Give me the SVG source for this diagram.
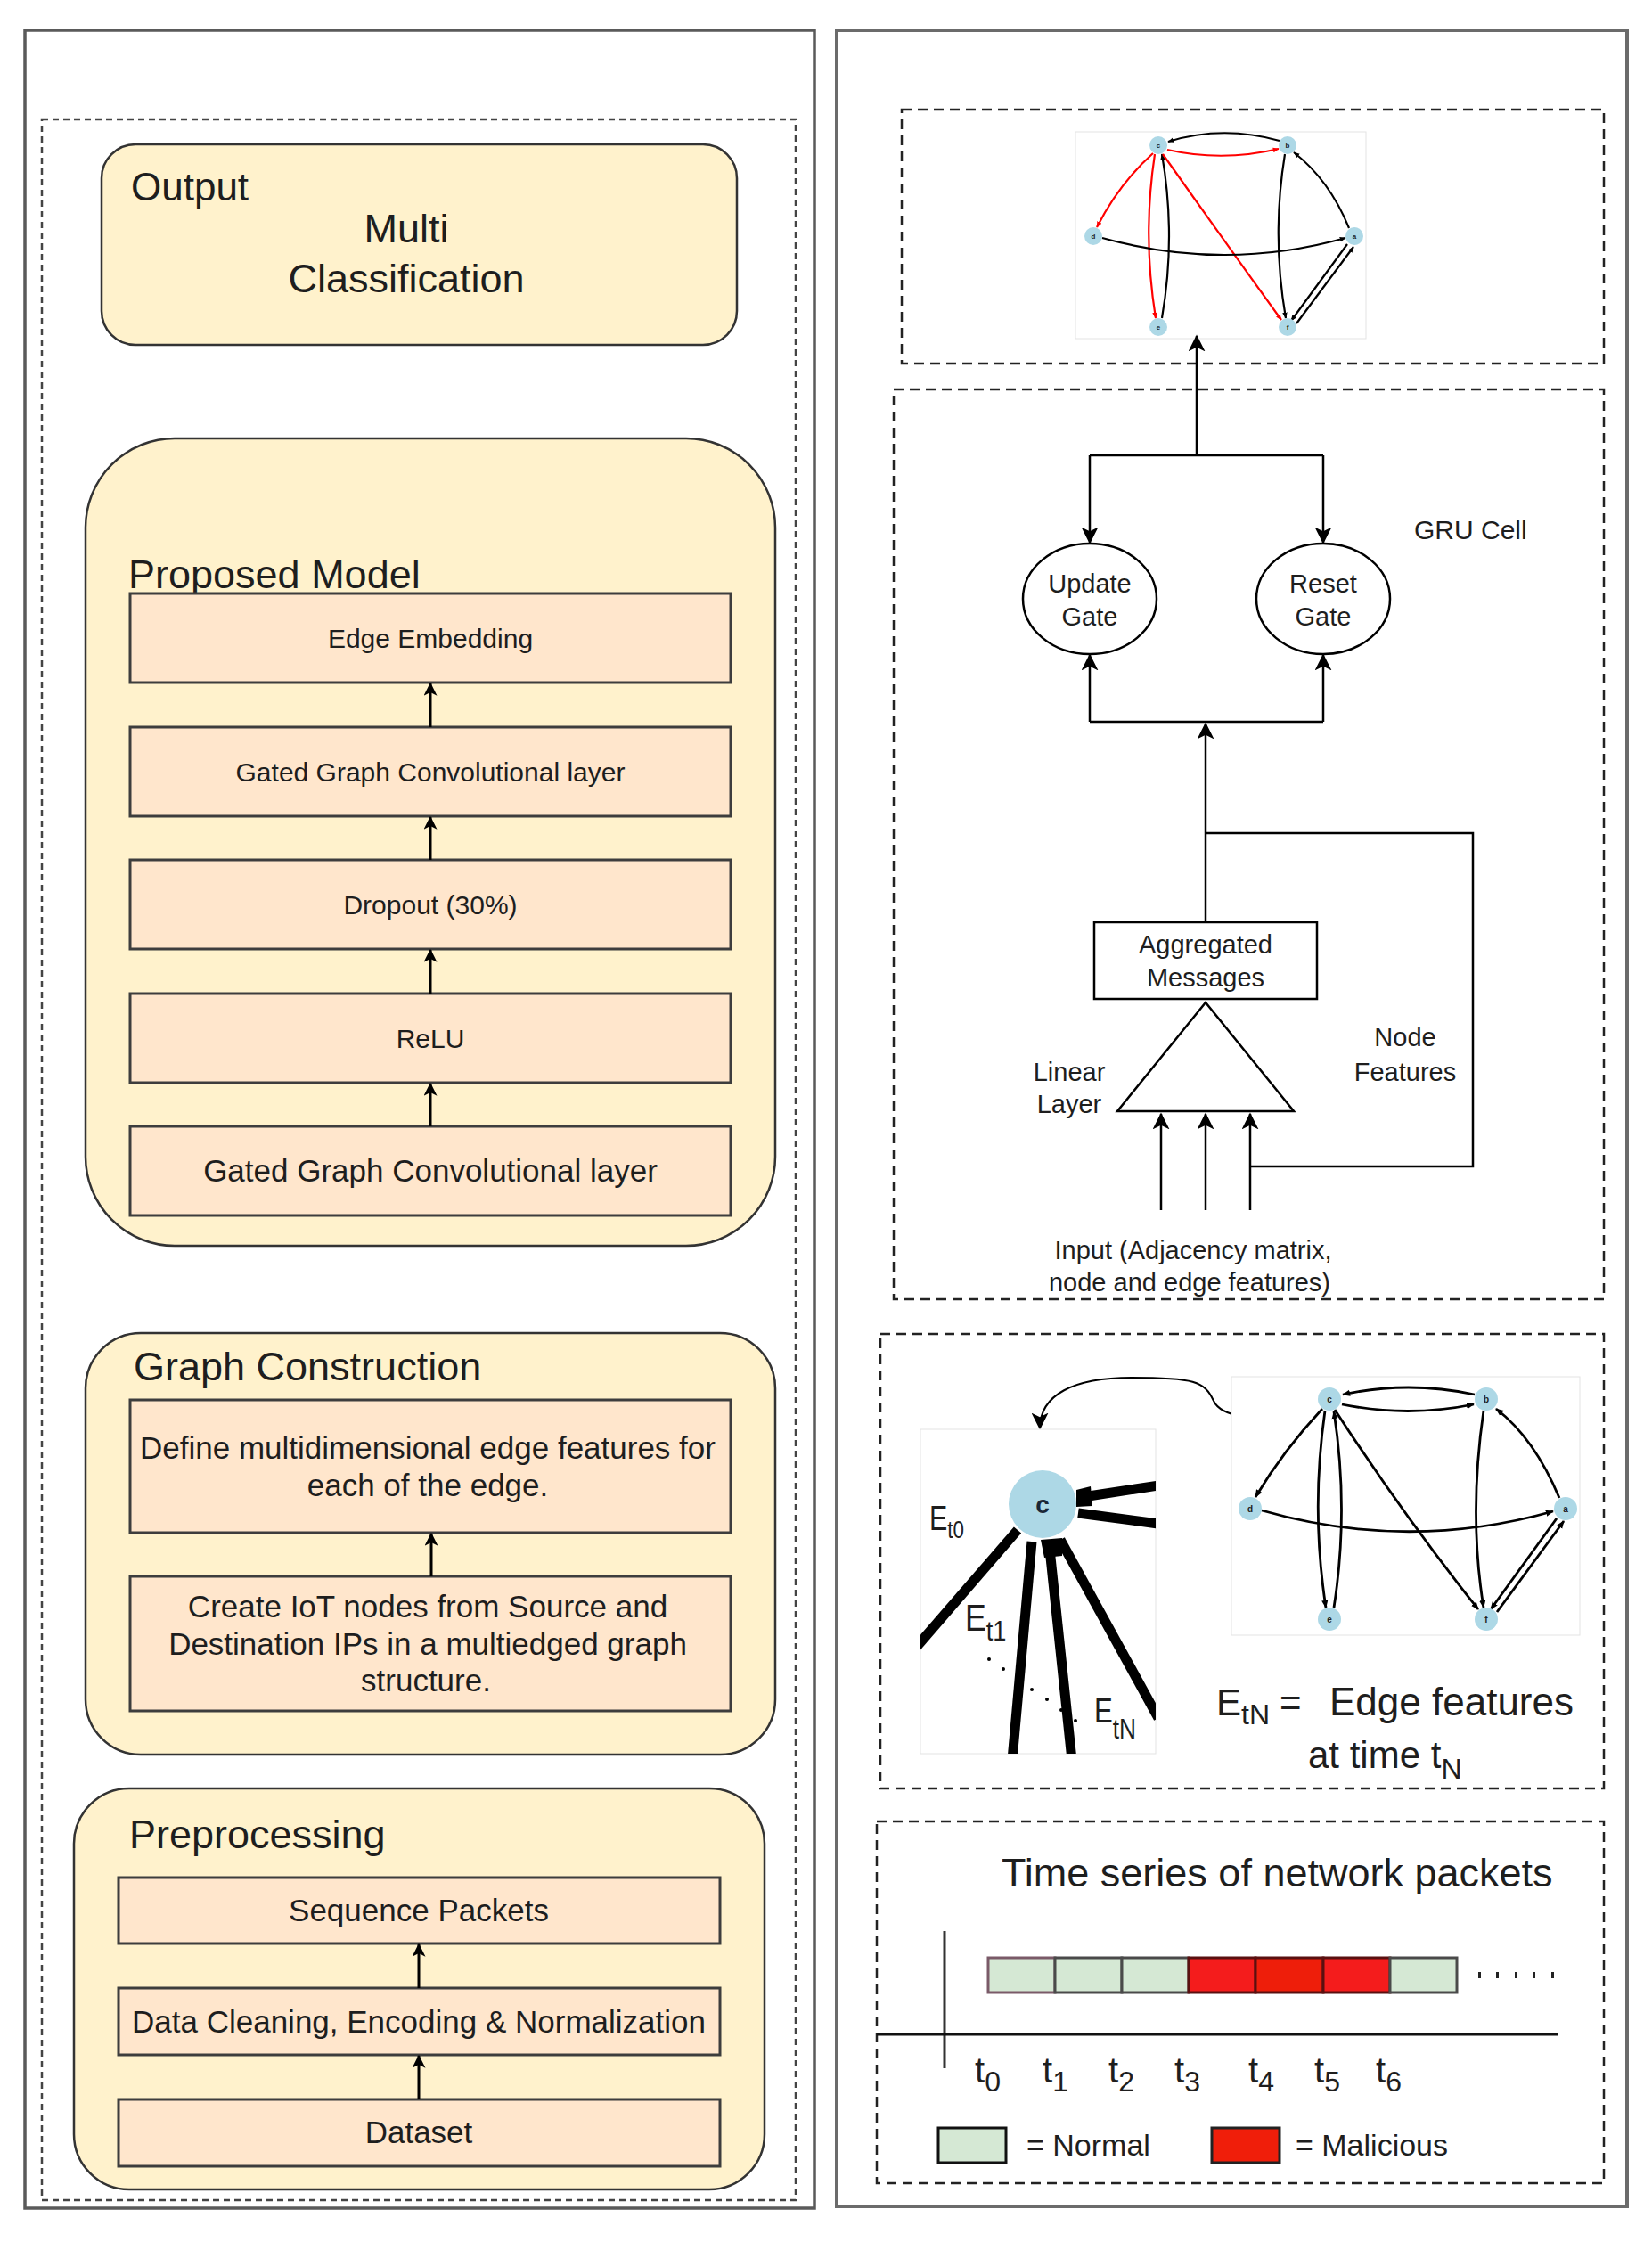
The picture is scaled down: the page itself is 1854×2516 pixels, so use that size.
<svg xmlns="http://www.w3.org/2000/svg" width="1854" height="2516" viewBox="0 0 1854 2516">
<style>
text{font-family:"Liberation Sans",Arial,sans-serif;fill:#1e1e1e}
.panel{fill:#fff;stroke:#5a5a5a;stroke-width:3.5}
.dash{fill:none;stroke:#222;stroke-width:2.5;stroke-dasharray:11 7}
.dashL{fill:none;stroke:#444;stroke-width:2.5;stroke-dasharray:7 5}
.group{fill:#FFF2CC;stroke:#333;stroke-width:2.5}
.layer{fill:#FFE6CC;stroke:#3d3d3d;stroke-width:3}
.flow{stroke:#000;stroke-width:3;fill:none;marker-end:url(#arr)}
.gru{stroke:#000;stroke-width:2.5;fill:none}
.gruA{stroke:#000;stroke-width:2.5;fill:none;marker-end:url(#arrB)}
.gk{fill:none;stroke:#000;stroke-width:2.2;marker-end:url(#gk)}
.grd{fill:none;stroke:#f00;stroke-width:2.2;marker-end:url(#grd)}
.gk2{fill:none;stroke:#000;stroke-width:2.8;marker-end:url(#gk2)}
.node{fill:#ADD8E6}
.nl{font-size:8px;text-anchor:middle;font-weight:bold;fill:#222}
.nl2{font-size:10px;text-anchor:middle;font-weight:bold;fill:#222}
.frame{fill:#fff;stroke:#e3e3e3;stroke-width:1}
.c{text-anchor:middle}
.thick{stroke:#000;stroke-width:11;fill:none}
.green{fill:#D5E8D4;stroke:#4a4a4a;stroke-width:3}
.red{fill:#F41C1C;stroke:#5a1010;stroke-width:3}
</style>
<defs>
<marker id="arr" viewBox="0 0 12 12" refX="11" refY="6" markerWidth="15" markerHeight="15" markerUnits="userSpaceOnUse" orient="auto"><path d="M0,0 L12,6 L0,12 L3,6 z" fill="#000"/></marker>
<marker id="arrB" viewBox="0 0 12 12" refX="11" refY="6" markerWidth="19" markerHeight="19" markerUnits="userSpaceOnUse" orient="auto"><path d="M0,0 L12,6 L0,12 L3,6 z" fill="#000"/></marker>
<marker id="gk" viewBox="0 0 10 10" refX="9" refY="5" markerWidth="7" markerHeight="7" markerUnits="userSpaceOnUse" orient="auto"><path d="M0,1 L10,5 L0,9 z" fill="#000"/></marker>
<marker id="grd" viewBox="0 0 10 10" refX="9" refY="5" markerWidth="7" markerHeight="7" markerUnits="userSpaceOnUse" orient="auto"><path d="M0,1 L10,5 L0,9 z" fill="#f00"/></marker>
<marker id="gk2" viewBox="0 0 10 10" refX="9" refY="5" markerWidth="9" markerHeight="9" markerUnits="userSpaceOnUse" orient="auto"><path d="M0,1 L10,5 L0,9 z" fill="#000"/></marker>
<clipPath id="zc"><rect x="1033" y="1604" width="264" height="364"/></clipPath>
</defs>

<!-- panels -->
<g id="left-panel">
<rect class="panel" x="28" y="34" width="886" height="2444"/>
<rect class="dashL" x="47" y="134" width="846" height="2335"/>
</g>
<g id="right-panel">
<rect class="panel" x="939" y="34" width="887" height="2442" style="stroke:#6b6b6b;stroke-width:4"/>
</g>

<!-- Output -->
<g id="output">
<rect class="group" x="114" y="162" width="713" height="225" rx="38"/>
<text x="147" y="225" font-size="44">Output</text>
<text class="c" x="456" y="272" font-size="45">Multi</text>
<text class="c" x="456" y="328" font-size="45">Classification</text>
</g>

<!-- Proposed Model -->
<g id="proposed-model">
<rect class="group" x="96" y="492" width="774" height="906" rx="100"/>
<text x="144" y="660" font-size="45">Proposed Model</text>
</g>
<g id="edge-embedding"><rect class="layer" x="146" y="666" width="674" height="100"/><text class="c" x="483" y="727" font-size="30">Edge Embedding</text></g>
<g id="ggc-top"><rect class="layer" x="146" y="816" width="674" height="100"/><text class="c" x="483" y="877" font-size="30">Gated Graph Convolutional layer</text></g>
<g id="dropout"><rect class="layer" x="146" y="965" width="674" height="100"/><text class="c" x="483" y="1026" font-size="30">Dropout (30%)</text></g>
<g id="relu"><rect class="layer" x="146" y="1115" width="674" height="100"/><text class="c" x="483" y="1176" font-size="30">ReLU</text></g>
<g id="ggc-bottom"><rect class="layer" x="146" y="1264" width="674" height="100"/><text class="c" x="483" y="1326" font-size="35">Gated Graph Convolutional layer</text></g>

<!-- Graph Construction -->
<g id="graph-construction">
<rect class="group" x="96" y="1496" width="774" height="473" rx="62"/>
<text x="150" y="1549" font-size="45">Graph Construction</text>
</g>
<g id="define-edges"><rect class="layer" x="146" y="1571" width="674" height="149"/>
<text class="c" x="480" y="1637" font-size="35">Define multidimensional edge features for</text>
<text class="c" x="480" y="1679" font-size="35">each of the edge.</text></g>
<g id="create-nodes"><rect class="layer" x="146" y="1769" width="674" height="151"/>
<text class="c" x="480" y="1815" font-size="35">Create IoT nodes from Source and</text>
<text class="c" x="480" y="1857" font-size="35">Destination IPs in a multiedged graph</text>
<text class="c" x="478" y="1898" font-size="35">structure.</text></g>

<!-- Preprocessing -->
<g id="preprocessing">
<rect class="group" x="83" y="2007" width="775" height="450" rx="62"/>
<text x="145" y="2074" font-size="45">Preprocessing</text>
</g>
<g id="sequence-packets"><rect class="layer" x="133" y="2107" width="675" height="74"/><text class="c" x="470" y="2156" font-size="35">Sequence Packets</text></g>
<g id="data-cleaning"><rect class="layer" x="133" y="2231" width="675" height="75"/><text class="c" x="470" y="2281" font-size="35">Data Cleaning, Encoding &amp; Normalization</text></g>
<g id="dataset"><rect class="layer" x="133" y="2356" width="675" height="75"/><text class="c" x="470" y="2405" font-size="35">Dataset</text></g>

<!-- Right: output graph -->
<rect class="dash" x="1012" y="123" width="788" height="285"/>
<g id="output-graph">
<rect class="frame" x="1207" y="148" width="326" height="232"/>
<path class="gk" d="M1436,158 Q1372,140 1311,159"/>
<path class="grd" d="M1310,168 Q1372,182 1435,167"/>
<path class="grd" d="M1294,172 Q1256,206 1231,255"/>
<path class="grd" d="M1296,173 Q1282,265 1297,357"/>
<path class="gk" d="M1304,357 Q1320,265 1304,173"/>
<path class="grd" d="M1305,173 Q1368,262 1438,359"/>
<path class="gk" d="M1442,173 Q1427,265 1443,357"/>
<path class="gk" d="M1514,256 Q1492,202 1452,171"/>
<path class="gk" d="M1237,267 Q1375,305 1510,267"/>
<path class="gk" d="M1512,274 L1449,360"/>
<path class="gk" d="M1455,363 L1519,277"/>
<circle class="node" cx="1300" cy="163" r="10"/><text class="nl" x="1300" y="166">c</text>
<circle class="node" cx="1445" cy="163" r="10"/><text class="nl" x="1445" y="166">b</text>
<circle class="node" cx="1227" cy="265" r="10"/><text class="nl" x="1227" y="268">d</text>
<circle class="node" cx="1520" cy="265" r="10"/><text class="nl" x="1520" y="268">a</text>
<circle class="node" cx="1300" cy="367" r="10"/><text class="nl" x="1300" y="370">e</text>
<circle class="node" cx="1445" cy="367" r="10"/><text class="nl" x="1445" y="370">f</text>
</g>

<!-- GRU cell -->
<rect class="dash" x="1003" y="437" width="797" height="1021"/>
<text id="gru-label" x="1587" y="605" font-size="30">GRU Cell</text>
<g id="update-gate"><ellipse cx="1223" cy="672" rx="75" ry="62" fill="#fff" stroke="#000" stroke-width="2.5"/>
<text class="c" x="1223" y="665" font-size="29">Update</text><text class="c" x="1223" y="702" font-size="29">Gate</text></g>
<g id="reset-gate"><ellipse cx="1485" cy="672" rx="75" ry="62" fill="#fff" stroke="#000" stroke-width="2.5"/>
<text class="c" x="1485" y="665" font-size="29">Reset</text><text class="c" x="1485" y="702" font-size="29">Gate</text></g>
<g id="aggregated"><rect x="1228" y="1035" width="250" height="86" fill="#fff" stroke="#000" stroke-width="2.5"/>
<text class="c" x="1353" y="1070" font-size="29">Aggregated</text><text class="c" x="1353" y="1107" font-size="29">Messages</text></g>
<g id="linear-layer"><path d="M1353,1125 L1254,1247 L1452,1247 Z" fill="#fff" stroke="#000" stroke-width="2.5"/>
<text class="c" x="1200" y="1213" font-size="29">Linear</text><text class="c" x="1200" y="1249" font-size="29">Layer</text></g>
<g id="node-features-label"><text class="c" x="1577" y="1174" font-size="29">Node</text><text class="c" x="1577" y="1213" font-size="29">Features</text></g>
<g id="input-label"><text class="c" x="1339" y="1413" font-size="29">Input (Adjacency matrix,</text><text class="c" x="1335" y="1449" font-size="29">node and edge features)</text></g>

<g id="connectors">
<line class="flow" x1="483" y1="816" x2="483" y2="767"/>
<line class="flow" x1="483" y1="965" x2="483" y2="917"/>
<line class="flow" x1="483" y1="1115" x2="483" y2="1066"/>
<line class="flow" x1="483" y1="1264" x2="483" y2="1216"/>
<line class="flow" x1="484" y1="1769" x2="484" y2="1721"/>
<line class="flow" x1="470" y1="2231" x2="470" y2="2182"/>
<line class="flow" x1="470" y1="2356" x2="470" y2="2307"/>
<line class="gruA" x1="1343" y1="511" x2="1343" y2="377"/>
<polyline class="gru" points="1223,511 1485,511"/>
<line class="gruA" x1="1223" y1="511" x2="1223" y2="609"/>
<line class="gruA" x1="1485" y1="511" x2="1485" y2="609"/>
<polyline class="gru" points="1223,810 1485,810"/>
<line class="gruA" x1="1223" y1="810" x2="1223" y2="735"/>
<line class="gruA" x1="1485" y1="810" x2="1485" y2="735"/>
<line class="gruA" x1="1353" y1="1035" x2="1353" y2="812"/>
<polyline class="gru" points="1353,935 1653,935 1653,1309 1403,1309"/>
<line class="gruA" x1="1303" y1="1358" x2="1303" y2="1250"/>
<line class="gruA" x1="1353" y1="1358" x2="1353" y2="1250"/>
<line class="gruA" x1="1403" y1="1358" x2="1403" y2="1250"/>
<path d="M1463,1592 C1418,1592 1372,1594 1362,1572 C1352,1550 1340,1546 1270,1546 C1205,1546 1167,1565 1167,1603" fill="none" stroke="#000" stroke-width="2" marker-end="url(#arrB)"/>
</g>

<!-- Edge features panel -->
<rect class="dash" x="988" y="1497" width="812" height="510"/>
<g id="zoom-view">
<rect class="frame" x="1033" y="1604" width="264" height="364"/>
<g clip-path="url(#zc)">
<line class="thick" x1="1142" y1="1717" x2="1020" y2="1858"/>
<line class="thick" x1="1158" y1="1730" x2="1136" y2="1975"/>
<line class="thick" x1="1178" y1="1738" x2="1203" y2="1975"/>
<line class="thick" x1="1190" y1="1728" x2="1300" y2="1928"/>
<line class="thick" x1="1215" y1="1680" x2="1300" y2="1667"/>
<line class="thick" x1="1210" y1="1698" x2="1300" y2="1710"/>
<path d="M1168,1728 L1192,1726 L1192,1746 L1172,1748 Z" fill="#000"/>
<path d="M1208,1672 L1224,1668 L1226,1690 L1208,1691 Z" fill="#000"/>
</g>
<circle class="node" cx="1170" cy="1688" r="38"/>
<text class="c" x="1170" y="1698" font-size="28" font-weight="bold" style="fill:#1a2636">c</text>
<circle cx="1110" cy="1862" r="2" fill="#000"/><circle cx="1126" cy="1873" r="2" fill="#000"/>
<circle cx="1158" cy="1896" r="2" fill="#000"/><circle cx="1175" cy="1907" r="2" fill="#000"/>
<circle cx="1191" cy="1919" r="2" fill="#000"/><circle cx="1207" cy="1931" r="2" fill="#000"/>
<text transform="translate(1043,1717) scale(0.8,1)" font-size="38">E<tspan font-size="28" dy="9">t0</tspan></text>
<text transform="translate(1083,1830) scale(0.85,1)" font-size="42">E<tspan font-size="32" dy="11">t1</tspan></text>
<text transform="translate(1228,1933) scale(0.82,1)" font-size="38">E<tspan font-size="32" dy="18">tN</tspan></text>
</g>
<g id="input-graph">
<rect class="frame" x="1382" y="1545" width="391" height="290"/>
<path class="gk2" d="M1655,1565 Q1580,1549 1507,1565"/>
<path class="gk2" d="M1506,1576 Q1580,1591 1654,1576"/>
<path class="gk2" d="M1484,1581 Q1440,1628 1409,1680"/>
<path class="gk2" d="M1487,1583 Q1471,1695 1488,1804"/>
<path class="gk2" d="M1497,1804 Q1514,1695 1497,1584"/>
<path class="gk2" d="M1498,1582 Q1576,1702 1659,1806"/>
<path class="gk2" d="M1665,1583 Q1648,1700 1665,1804"/>
<path class="gk2" d="M1750,1681 Q1722,1614 1679,1581"/>
<path class="gk2" d="M1416,1695 Q1580,1742 1743,1696"/>
<path class="gk2" d="M1747,1704 L1673,1806"/>
<path class="gk2" d="M1680,1809 L1755,1707"/>
<circle class="node" cx="1492" cy="1570" r="13"/><text class="nl2" x="1492" y="1574">c</text>
<circle class="node" cx="1668" cy="1570" r="13"/><text class="nl2" x="1668" y="1574">b</text>
<circle class="node" cx="1403" cy="1693" r="13"/><text class="nl2" x="1403" y="1697">d</text>
<circle class="node" cx="1757" cy="1693" r="13"/><text class="nl2" x="1757" y="1697">a</text>
<circle class="node" cx="1492" cy="1817" r="13"/><text class="nl2" x="1492" y="1821">e</text>
<circle class="node" cx="1668" cy="1817" r="13"/><text class="nl2" x="1668" y="1821">f</text>
</g>
<g id="edge-legend">
<text x="1365" y="1925" font-size="42">E<tspan font-size="32" dy="10">tN</tspan></text>
<text x="1436" y="1925" font-size="42">=</text>
<text x="1492" y="1925" font-size="44">Edge features</text>
<text x="1468" y="1984" font-size="42">at time t<tspan font-size="32" dy="12">N</tspan></text>
</g>

<!-- Time series -->
<rect class="dash" x="984" y="2044" width="816" height="406"/>
<g id="time-series">
<text x="1124" y="2117" font-size="45">Time series of network packets</text>
<line x1="1060" y1="2167" x2="1060" y2="2321" stroke="#333" stroke-width="3"/>
<line x1="984" y1="2283" x2="1749" y2="2283" stroke="#111" stroke-width="3"/>
<rect class="green" x="1109" y="2197" width="75" height="39" style="stroke:#7a5a68"/>
<rect class="green" x="1184" y="2197" width="75" height="39"/>
<rect class="green" x="1259" y="2197" width="75" height="39"/>
<rect class="red" x="1334" y="2197" width="75" height="39"/>
<rect class="red" x="1409" y="2197" width="76" height="39" style="fill:#EE1E0A"/>
<rect class="red" x="1485" y="2197" width="75" height="39"/>
<rect class="green" x="1560" y="2197" width="75" height="39"/>
<g fill="#222"><rect x="1659" y="2213" width="3" height="7"/><rect x="1679" y="2213" width="3" height="7"/><rect x="1700" y="2213" width="3" height="7"/><rect x="1720" y="2213" width="3" height="7"/><rect x="1741" y="2213" width="3" height="7"/></g>
<g font-size="40">
<text x="1094" y="2337">t<tspan font-size="32" dy="10">0</tspan></text>
<text x="1170" y="2337">t<tspan font-size="32" dy="10">1</tspan></text>
<text x="1244" y="2337">t<tspan font-size="32" dy="10">2</tspan></text>
<text x="1318" y="2337">t<tspan font-size="32" dy="10">3</tspan></text>
<text x="1401" y="2337">t<tspan font-size="32" dy="10">4</tspan></text>
<text x="1475" y="2337">t<tspan font-size="32" dy="10">5</tspan></text>
<text x="1544" y="2337">t<tspan font-size="32" dy="10">6</tspan></text>
</g>
<rect class="green" x="1053" y="2388" width="76" height="39" style="stroke:#111"/>
<text x="1152" y="2419" font-size="34">= Normal</text>
<rect class="red" x="1360" y="2388" width="76" height="39" style="fill:#F01E0A;stroke:#222"/>
<text x="1454" y="2419" font-size="34">= Malicious</text>
</g>
</svg>
